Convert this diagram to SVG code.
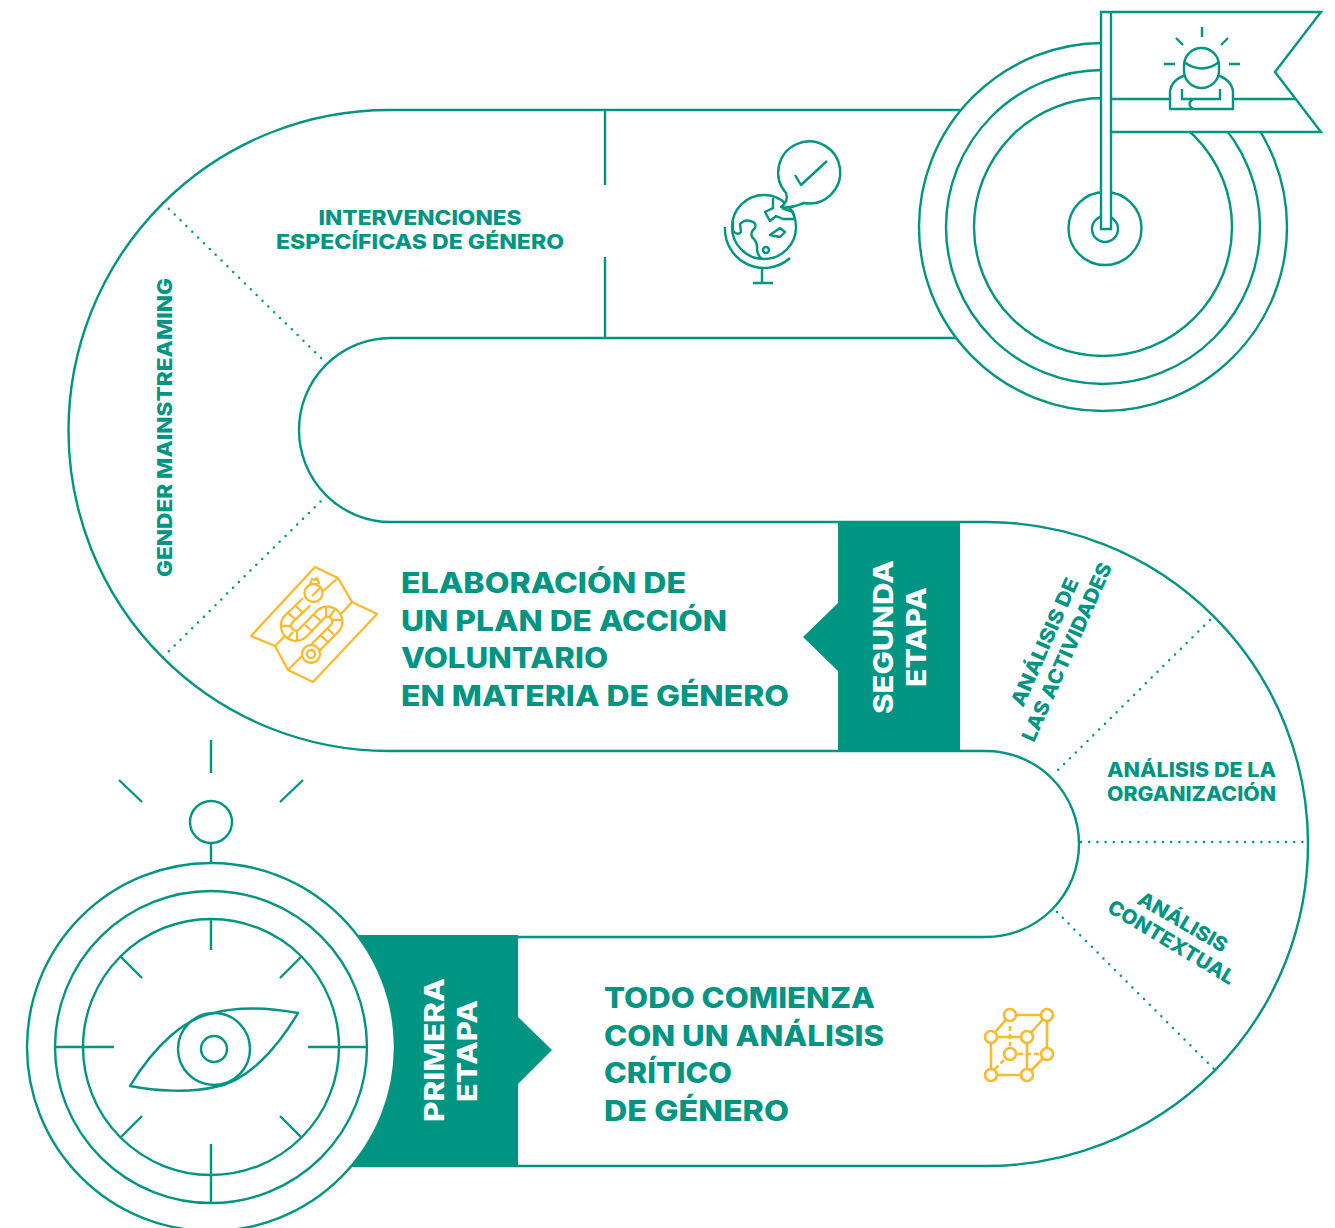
<svg xmlns="http://www.w3.org/2000/svg" width="1335" height="1228" viewBox="0 0 1335 1228">
<style>
.l{fill:none;stroke:#009482;stroke-width:2.4}
.w{fill:#fff;stroke:#009482;stroke-width:2.4}
.d{fill:none;stroke:#009482;stroke-width:2.5;stroke-dasharray:0 8.2;stroke-linecap:round}
.y{fill:none;stroke:#fdb92e;stroke-width:2.3;stroke-linejoin:round}
.yw{fill:#fff;stroke:#fdb92e;stroke-width:2.3}
.f{fill:#009482}
text{font-family:Inter,"Liberation Sans",sans-serif;font-weight:800;fill:#009482}
.s{font-size:20px}
.b{font-size:28px}
.e{font-size:27px;fill:#fff}
</style>
<rect width="1335" height="1228" fill="#fff"/>
<g id="connectors">
<path class="l" d="M960 110H389A320 320 0 0 0 389 751H986A93 93 0 0 1 986 937H360M360 1166H986A322 322 0 0 0 986 522H391A92 92 0 0 1 391 338H960"/>
<path class="l" d="M605 110V185M605 257V338"/>
<path class="d" d="M163 203L325 362"/>
<path class="d" d="M163 657L325 497"/>
<path class="d" d="M1210 620L1055 773"/>
<path class="d" d="M1081 842H1310"/>
<path class="d" d="M1057 912L1214 1069"/>
</g>
<g id="segunda-etapa">
<path class="f" d="M838 521H960V752H838V671L803 637L838 603Z"/>
<text class="e" transform="translate(893 714) rotate(-90)" textLength="154" lengthAdjust="spacingAndGlyphs">SEGUNDA</text>
<text class="e" transform="translate(926 687) rotate(-90)" textLength="100" lengthAdjust="spacingAndGlyphs">ETAPA</text>
</g>
<g id="primera-etapa">
<path class="f" d="M340 935H518V1017L552 1050L518 1084V1167H340Z"/>
<text class="e" transform="translate(444 1122) rotate(-90)" textLength="144" lengthAdjust="spacingAndGlyphs">PRIMERA</text>
<text class="e" transform="translate(477 1102) rotate(-90)" textLength="102" lengthAdjust="spacingAndGlyphs">ETAPA</text>
</g>
<g id="compass">
<path class="l" d="M211 740V773M119 780L142 802M303 780L280 802M211 843V863"/>
<circle class="l" cx="211" cy="822" r="21"/>
<circle class="w" cx="211" cy="1047" r="184"/>
<circle class="l" cx="211" cy="1047" r="156"/>
<circle class="l" cx="211" cy="1047" r="128"/>
<path class="l" d="M211 919V950M211 1144V1203M55 1047H114M308 1047H367M120 956L142 978M302 956L280 978M142 1116L120 1138M280 1116L302 1138"/>
<path class="l" stroke-linejoin="round" d="M130 1086C155 1045 185 1018 214 1013C240 1006 270 1008 298 1013C275 1052 245 1082 215 1087C190 1093 155 1091 130 1086Z"/>
<circle class="l" cx="214" cy="1049" r="36"/>
<circle class="l" cx="214" cy="1049" r="13"/>
</g>
<g id="target">
<circle class="w" cx="1103" cy="227" r="184"/>
<circle class="l" cx="1103" cy="227" r="157"/>
<circle class="l" cx="1103" cy="227" r="129"/>
<circle class="w" cx="1105" cy="228.500" r="36.500"/>
<circle class="l" cx="1105" cy="229" r="13"/>
<path class="w" d="M1101 12H1321L1275 72L1321 132H1111V229H1101Z"/>
<path class="l" d="M1111 12V132M1111 99H1296"/>
</g>
<g id="person">
<path class="w" stroke-linejoin="round" d="M1170 109V92Q1171 80 1186 75H1217Q1232 80 1233 92V109Z"/>
<rect class="w" x="1184" y="48" width="35" height="40" rx="17.500"/>
<path class="l" d="M1184 62Q1202 75 1219 62M1182 89V99H1220V89M1193 99Q1186 104 1193 109M1202 27V37M1176 38L1183 45M1228 38L1221 45M1164 64H1175M1229 64H1240"/>
</g>
<g id="globe">
<circle class="l" cx="764" cy="227" r="32"/>
<path class="l" d="M725 227A39 39 0 0 0 790 258M762 267V283M753 283H773"/>
<path class="w" stroke-linejoin="round" d="M781 207C786 204 788 198 786 193A31 31 0 1 1 804 203C798 205 792 209 781 207Z"/>
<path class="l" stroke-linejoin="round" d="M795 175L801 185L827 161"/>
<path class="l" stroke-width="2" stroke-linejoin="round" d="M733 221V231Q738 236 741 232L740 224Q745 219 750 221Q757 222 755 228Q750 232 752 237Q758 242 757 250Q758 256 762 259M773 198V208L765 212L770 221L776 216L783 219L795 219L793 212L782 208M770 235L780 228L785 232L780 237Z"/>
<circle class="l" stroke-width="2" cx="766" cy="250" r="3"/>
</g>
<g id="map">
<path class="y" d="M251 636L315 567L338 578L352 602L377 614L313 682L288 670L275 646Z"/>
<path class="y" d="M275 646L288 633M288 670L304 654M352 602L341 614M338 578L322 592"/>
<path d="M306.700 601.700L288 619.700A10 10 0 0 0 302 633.700L321.300 613.700A10 10 0 0 1 335.300 627.700L315 648" fill="none" stroke="#fdb92e" stroke-width="12.500"/>
<path d="M306.700 601.700L288 619.700A10 10 0 0 0 302 633.700L321.300 613.700A10 10 0 0 1 335.300 627.700L315 648" fill="none" stroke="#fff" stroke-width="8"/>
<path class="y" d="M295 605L303 613M282 626H292M288 613L296 620M297 631V641M287 639L293 632M305 625L313 632M314 615L322 622M326 606V617M335 609L329 618M332 620H343M320 635L329 643M327 628L334 635"/>
<circle class="yw" cx="313.500" cy="593" r="9"/>
<path class="y" d="M310 585L312 579L315 580L317 578L319 583L316 585M312 596L320 588"/>
<circle class="yw" cx="311" cy="654" r="9"/>
<circle class="y" cx="311" cy="654" r="4"/>
</g>
<g id="cube">
<path class="y" style="stroke-width:2.600" d="M1010 1015H1047M991 1037H1027M991 1075H1027M1010 1015L991 1037M1047 1015L1027 1037M1047 1054L1027 1075M1047 1015V1054M991 1037V1075M1027 1037V1075"/>
<path class="y" style="stroke-width:2.600" d="M1010 1026V1046M1018 1054H1040M1004 1060L992 1072" stroke-dasharray="5 3"/>
<g class="yw" style="stroke-width:2.600">
<circle cx="1010" cy="1015" r="6"/><circle cx="1047" cy="1015" r="6"/><circle cx="991" cy="1037" r="6"/><circle cx="1027" cy="1037" r="6"/><circle cx="1010" cy="1054" r="6"/><circle cx="1047" cy="1054" r="6"/><circle cx="991" cy="1075" r="6"/><circle cx="1027" cy="1075" r="6"/>
</g>
</g>
<g id="labels">
<text class="s" x="420" y="225" text-anchor="middle" textLength="203" lengthAdjust="spacingAndGlyphs">INTERVENCIONES</text>
<text class="s" x="420" y="249" text-anchor="middle" textLength="288" lengthAdjust="spacingAndGlyphs">ESPECÍFICAS DE GÉNERO</text>
<text class="s" transform="translate(172 577) rotate(-90)" textLength="299" lengthAdjust="spacingAndGlyphs">GENDER MAINSTREAMING</text>
<text class="b" x="401" y="593" textLength="285" lengthAdjust="spacingAndGlyphs">ELABORACIÓN DE</text>
<text class="b" x="401" y="631" textLength="326" lengthAdjust="spacingAndGlyphs">UN PLAN DE ACCIÓN</text>
<text class="b" x="401" y="668" textLength="207" lengthAdjust="spacingAndGlyphs">VOLUNTARIO</text>
<text class="b" x="401" y="706" textLength="388" lengthAdjust="spacingAndGlyphs">EN MATERIA DE GÉNERO</text>
<text class="b" x="604" y="1008" textLength="271" lengthAdjust="spacingAndGlyphs">TODO COMIENZA</text>
<text class="b" x="604" y="1046" textLength="280" lengthAdjust="spacingAndGlyphs">CON UN ANÁLISIS</text>
<text class="b" x="604" y="1083" textLength="128" lengthAdjust="spacingAndGlyphs">CRÍTICO</text>
<text class="b" x="604" y="1121" textLength="185" lengthAdjust="spacingAndGlyphs">DE GÉNERO</text>
<text class="s" transform="translate(1023 708) rotate(-66)" textLength="138" lengthAdjust="spacingAndGlyphs">ANÁLISIS DE</text>
<text class="s" transform="translate(1034 743) rotate(-66)" textLength="193" lengthAdjust="spacingAndGlyphs">LAS ACTIVIDADES</text>
<text class="s" x="1107" y="777" textLength="169" lengthAdjust="spacingAndGlyphs">ANÁLISIS DE LA</text>
<text class="s" x="1107" y="801" textLength="169" lengthAdjust="spacingAndGlyphs">ORGANIZACIÓN</text>
<text class="s" transform="translate(1136 903) rotate(30)" textLength="100" lengthAdjust="spacingAndGlyphs">ANÁLISIS</text>
<text class="s" transform="translate(1106 911) rotate(31)" textLength="144" lengthAdjust="spacingAndGlyphs">CONTEXTUAL</text>
</g>
</svg>
